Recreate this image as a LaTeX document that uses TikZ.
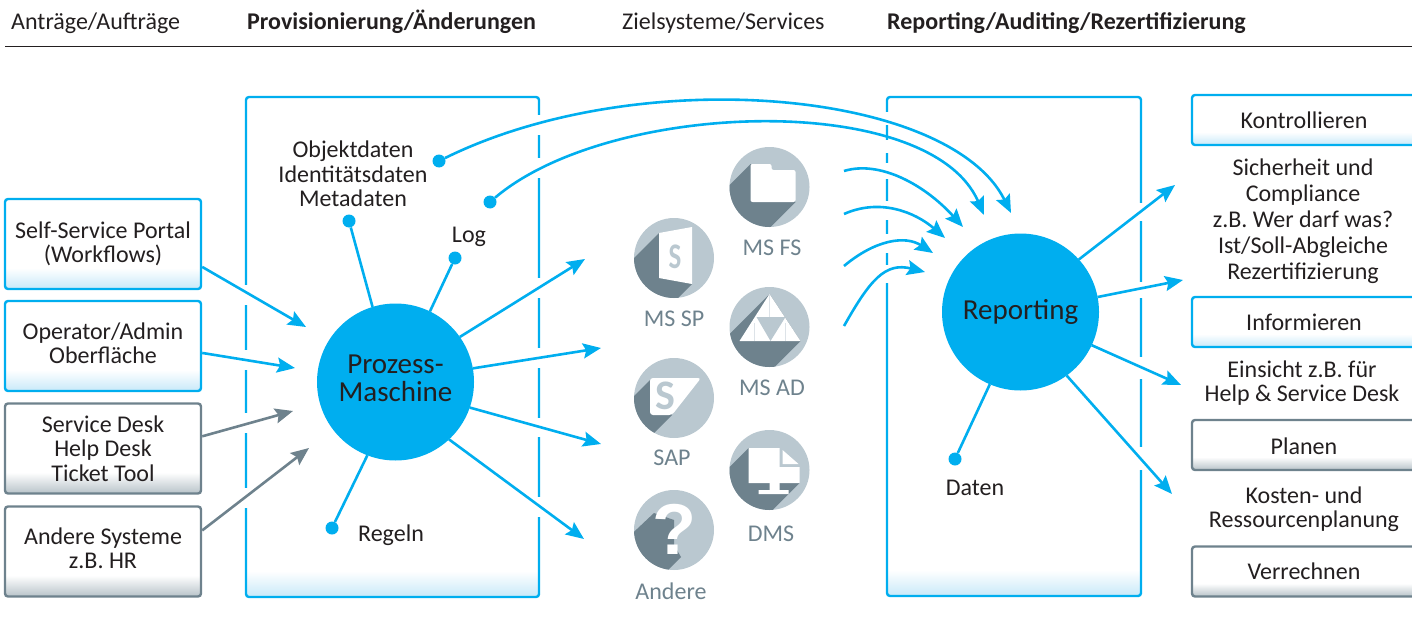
\documentclass[tikz,border=0pt]{standalone}
\usepackage{fontspec}
\setmainfont{Carlito}
\newfontfamily\markfont{Liberation Sans}
\usepackage{xcolor}
\usetikzlibrary{arrows.meta}
\definecolor{hubblue}{HTML}{00AEEF}
\definecolor{fadeblue}{HTML}{C8E9F9}
\definecolor{slategray}{HTML}{6E828D}
\definecolor{fadegray}{HTML}{B8C3C9}
\definecolor{icongray}{HTML}{BAC8D0}
\definecolor{inkblack}{HTML}{231F20}
\pgfdeclareverticalshading{panelfade}{100bp}{color(0bp)=(fadeblue); color(25bp)=(fadeblue); color(27.6bp)=(white); color(100bp)=(white)}
\pgfdeclareverticalshading{bluefade}{100bp}{color(0bp)=(fadeblue); color(25bp)=(fadeblue); color(36.7bp)=(white); color(100bp)=(white)}
\pgfdeclareverticalshading{grayfade}{100bp}{color(0bp)=(fadegray); color(25bp)=(fadegray); color(36.7bp)=(white); color(100bp)=(white)}
\pgfdeclareverticalshading{bluebarfade}{100bp}{color(0bp)=(fadeblue); color(25bp)=(fadeblue); color(38bp)=(white); color(100bp)=(white)}
\pgfdeclareverticalshading{graybarfade}{100bp}{color(0bp)=(fadegray); color(25bp)=(fadegray); color(38bp)=(white); color(100bp)=(white)}
\newcommand{\iconshadow}[2]{\begin{scope}[shift={(#1.center)}]\clip (0,0) circle (40);\fill[slategray] #2;\end{scope}}

\begin{document}
\begin{tikzpicture}[x=1pt, y=-1pt, every node/.style={text=inkblack, font=\fontsize{24}{24.5}\selectfont, align=center, inner sep=0pt}]
    \tikzstyle{panelbox} = [rectangle, rounded corners=3pt, draw=hubblue, line width=2.4pt, shade, shading=panelfade]
    \tikzstyle{bluebox} = [panelbox, minimum width=196pt, minimum height=90pt, shading=bluefade]
    \tikzstyle{graybox} = [bluebox, draw=slategray, shading=grayfade]
    \tikzstyle{bluebar} = [panelbox, minimum width=224pt, minimum height=50pt, shading=bluebarfade]
    \tikzstyle{graybar} = [bluebar, draw=slategray, shading=graybarfade]
    \tikzstyle{hub} = [circle, fill=hubblue, minimum size=157pt, outer sep=0pt, font=\fontsize{29}{28}\selectfont]
    \tikzstyle{dot} = [circle, fill=hubblue, minimum size=13pt]
    \tikzstyle{iconbase} = [circle, fill=icongray, minimum size=80pt, outer sep=0pt]
    \tikzstyle{iconname} = [text=slategray]
    \tikzstyle{arrowline} = [draw=hubblue, line width=2.6pt, -{Stealth[length=18pt, width=15pt, inset=3pt]}]
    \tikzstyle{grayline} = [arrowline, draw=slategray, -{Stealth[length=18pt, width=15pt, inset=3pt, fill=slategray]}]
    \tikzstyle{spoke} = [draw=hubblue, line width=2.6pt]
    \useasboundingbox (0,0) rectangle (1412,623);

    % Header
    \node [anchor=base west] (head1) at (11,30) {Anträge/Aufträge};
    \node [anchor=base west, font=\fontsize{24}{24.5}\selectfont\bfseries] (head2) at (247,30) {Provisionierung/Änderungen};
    \node [anchor=base west] (head3) at (622,30) {Zielsysteme/Services};
    \node [anchor=base west, font=\fontsize{24}{24.5}\selectfont\bfseries] (head4) at (887,30) {Reporting/Auditing/Rezertifizierung};
    \draw [inkblack, line width=1pt] (5,46.5) -- (1412,46.5);

    % Panels
    \node [panelbox, minimum width=293pt, minimum height=500pt] (leftpanel) at (392.5,347) {};
    \node [panelbox, minimum width=254pt, minimum height=499pt] (rightpanel) at (1014,346.5) {};

    % Gaps in the panel edges
    \foreach \ya/\yb in {285/305, 350/370, 413/433, 488/508}
        \fill [white] (243,\ya) rectangle (249,\yb);
    \foreach \ya/\yb in {115/135, 158/178, 278/298, 348/368, 418/437, 497/517}
        \fill [white] (536,\ya) rectangle (542,\yb);
    \foreach \ya/\yb in {112/125, 140/153, 163/179, 201/220, 234/253, 265/283}
        \fill [white] (884,\ya) rectangle (890,\yb);
    \foreach \ya/\yb in {203/221, 282/298, 357/379, 447/470}
        \fill [white] (1138,\ya) rectangle (1144,\yb);

    % Request sources
    \node [bluebox] (portal) at (103,244) {Self-Service Portal\\(Workflows)};
    \node [bluebox, text depth=6pt] (admin) at (103,346) {Operator/Admin\\Oberfläche};
    \node [graybox] (desk) at (103,448.5) {Service Desk\\Help Desk\\Ticket Tool};
    \node [graybox, text depth=7pt] (other) at (103,551.5) {Andere Systeme\\z.B. HR};

    % Hubs
    \node [hub, text depth=7pt] (prozess) at (395.5,382) {Prozess-\\Maschine};
    \node [hub] (reporting) at (1020.5,312) {Reporting};

    % Left panel data
    \node (objekt) at (353,174) {Objektdaten\\Identitätsdaten\\Metadaten};
    \node (logtext) at (469,237) {Log};
    \node (regeln) at (391,535) {Regeln};
    \node [dot] (objektdot) at (349,221) {};
    \node [dot] (logdot) at (455,258) {};
    \node [dot] (regelndot) at (332,528) {};
    \node [dot] (curvedot) at (439,161) {};
    \node [dot] (logcurvedot) at (490,202) {};
    \draw [spoke] (prozess.107) -- (objektdot);
    \draw [spoke] (prozess.64) -- (logdot);
    \draw [spoke] (prozess.-111) -- (regelndot);

    % Right panel data
    \node (daten) at (975,488) {Daten};
    \node [dot] (datendot) at (955,459) {};
    \draw [spoke] (reporting.-113) -- (datendot);

    % Target system icons
    \node [iconbase] (msfs) at (769.5,187) {};
    \iconshadow{msfs}{(-19,-23) -- (-79,37) -- (-34,75) -- (26,15) -- cycle}
    \fill [white, rounded corners=2pt, shift={(msfs.center)}] (-19,-23) -- (2,-23) -- (2,-17) -- (26,-17) -- (26,15) -- (-19,15) -- cycle;
    \node [iconname] (msfstext) at (772,248) {MS FS};

    \node [iconbase] (mssp) at (674,258) {};
    \iconshadow{mssp}{(-15,-25) -- (-75,35) -- (-42,86) -- (18,26) -- cycle}
    \fill [white, shift={(mssp.center)}] (-15,-25) -- (18,-31) -- (18,26) -- (-15,20) -- cycle;
    \node [text=icongray, font=\fontsize{36}{36}\selectfont\bfseries, xscale=0.75] (msspletter) at (675,257) {S};
    \node [iconname] (msspname) at (674,319) {MS SP};

    \node [iconbase] (msad) at (769.5,327) {};
    \iconshadow{msad}{(0,-33) -- (-60,27) -- (-29,74) -- (31,14) -- cycle}
    \fill [white, shift={(msad.center)}] (0,-33) -- (31,14) -- (-30,14) -- cycle;
    \fill [icongray, shift={(msad.center)}] (-13,-10) -- (16,-10) -- (1,14) -- cycle;
    \draw [icongray!50!white, line width=0.4pt, shift={(msad.center)}] (0,-33) -- (0,-10) (-15,-4) -- (-15,14) (16,-4) -- (16,14);
    \node [iconname] (msadname) at (772,388) {MS AD};

    \node [iconbase] (sap) at (674,398) {};
    \iconshadow{sap}{(-24,-18) -- (-64,22) -- (-42,57) -- (-2,17) -- cycle}
    \fill [white, rounded corners=3pt, shift={(sap.center)}] (-24,-20) -- (27,-20) -- (-2,17) -- (-24,17) -- cycle;
    \node [text=icongray, font=\fontsize{42}{42}\selectfont\bfseries] (sapletter) at (665,396) {S};
    \node [iconname] (sapname) at (672,458) {SAP};

    \node [iconbase] (dms) at (769.5,470) {};
    \iconshadow{dms}{(-21,-22) -- (-71,28) -- (-20,63) -- (30,13) -- cycle}
    \fill [white, shift={(dms.center)}] (-21,-22) -- (10,-22) -- (10,-3) -- (30,-3) -- (30,13) -- (-21,13) -- cycle;
    \fill [white, shift={(dms.center)}] (13,-20) -- (29,-6) -- (13,-6) -- cycle;
    \fill [white, shift={(dms.center)}] (0,13) rectangle (10,20) (-11,20) rectangle (19,24);
    \node [iconname] (dmsname) at (771,534) {DMS};

    \node [iconbase] (andere) at (674,530) {};
    \iconshadow{andere}{(-20,-17) -- (0,-10) -- (0,15) -- (7,27) -- (-33,67) -- (-70,30) -- cycle}
    \node [text=white, font=\fontsize{72}{72}\markfont\bfseries] (anderemark) at (674,529) {?};
    \node [iconname] (anderename) at (671,591) {Andere};

    % Result boxes
    \node [bluebar] (kontrolle) at (1304,120) {Kontrollieren};
    \node [bluebar] (informieren) at (1304,322) {Informieren};
    \node [graybar, text height=19pt] (planen) at (1304,445) {Planen};
    \node [graybar] (verrechnen) at (1304,571.5) {Verrechnen};
    \node [font=\fontsize{24}{26}\selectfont] (sicherheit) at (1303,221) {Sicherheit und\\Compliance\\z.B. Wer darf was?\\Ist/Soll-Abgleiche\\Rezertifizierung};
    \node (einsicht) at (1302,383) {Einsicht z.B. für\\Help \& Service Desk};
    \node (kosten) at (1304,509) {Kosten- und\\Ressourcenplanung};

    % Free arrow ends
    \coordinate (inportal) at (306,327);
    \coordinate (inadmin) at (295,368);
    \coordinate (indesk) at (293,411);
    \coordinate (inother) at (309,448);
    \coordinate (out1) at (585,259);
    \coordinate (out2) at (601,348);
    \coordinate (out3) at (601,444);
    \coordinate (out4) at (584,539);
    \coordinate (rep1) at (1175,185);
    \coordinate (rep2) at (1183,280);
    \coordinate (rep3) at (1181,385);
    \coordinate (rep4) at (1172,494);
    \coordinate (fsa) at (844,171);
    \coordinate (fsb) at (844,214);
    \coordinate (fsc) at (844,266);
    \coordinate (fsd) at (844,326);
    \coordinate (tipa) at (963,227);
    \coordinate (tipb) at (945,238);
    \coordinate (tipc) at (933,253);
    \coordinate (tipd) at (925,272);
    \coordinate (tipobj) at (1011,213);
    \coordinate (tiplog) at (984,215);

    % Connections
    \draw [arrowline] (portal.-13) -- (inportal);
    \draw [arrowline] (admin.-4) -- (inadmin);
    \draw [grayline] (desk.7) -- (indesk);
    \draw [grayline] (other.12) -- (inother);

    \draw [arrowline] (prozess.35) -- (out1);
    \draw [arrowline] (prozess.10) -- (out2);
    \draw [arrowline] (prozess.-19) -- (out3);
    \draw [arrowline] (prozess.-47) -- (out4);

    \draw [arrowline] (reporting.42) -- (rep1);
    \draw [arrowline] (reporting.11) -- (rep2);
    \draw [arrowline] (reporting.-25) -- (rep3);
    \draw [arrowline] (reporting.-54) -- (rep4);

    % Curved connections
    \draw [arrowline] (curvedot) .. controls (640,62) and (950,90) .. (tipobj);
    \draw [arrowline] (logcurvedot) .. controls (610,100) and (930,90) .. (tiplog);
    \draw [arrowline] (fsa) .. controls (880,160) and (925,185) .. (tipa);
    \draw [arrowline] (fsb) .. controls (880,198) and (915,212) .. (tipb);
    \draw [arrowline] (fsc) .. controls (875,240) and (905,235) .. (tipc);
    \draw [arrowline] (fsd) .. controls (870,280) and (885,262) .. (tipd);
\end{tikzpicture}
\end{document}
